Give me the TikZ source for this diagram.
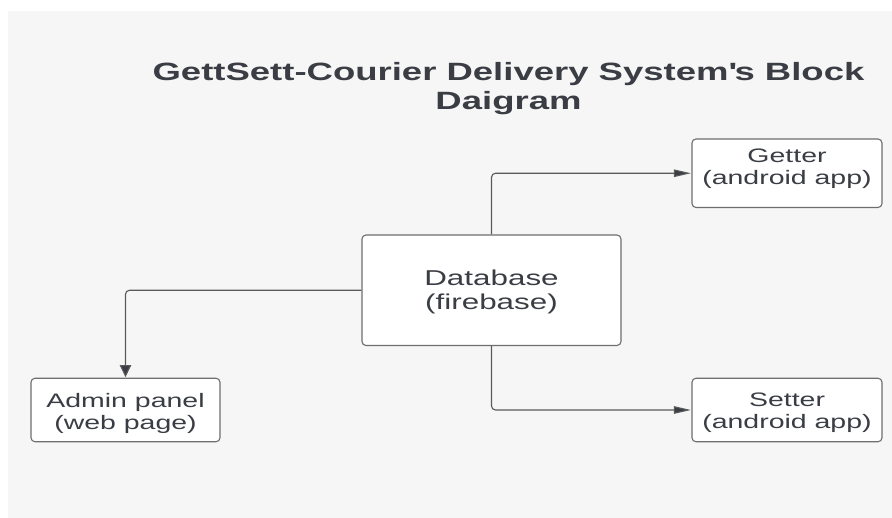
\documentclass[tikz,border=0pt]{standalone}
\usepackage{fontspec}
\setmainfont{Liberation Sans}[FakeStretch=1.46]
\usetikzlibrary{arrows.meta}
\definecolor{bggray}{HTML}{F6F6F6}
\definecolor{txtcol}{HTML}{3A3D44}
\definecolor{boxline}{HTML}{6E6E6E}
\definecolor{linecol}{HTML}{5A5A5A}
\tikzset{
  blockbox/.style={draw=boxline, fill=white, line width=1.1pt, rounded corners=4pt,
    inner sep=0pt, align=center, text=txtcol,
    font=\fontsize{19.5pt}{22pt}\selectfont},
  conn/.style={draw=linecol, line width=1.1pt, rounded corners=4pt, shorten >=0.6pt},
  harrow/.style={conn, -{Triangle[length=17pt,width=7.5pt,fill=txtcol]}},
  varrow/.style={conn, -{Triangle[length=12pt,width=11.5pt,fill=txtcol]}},
  titletext/.style={align=center, text=txtcol, inner sep=0pt,
    font=\bfseries\fontsize{25pt}{28.6pt}\selectfont, text height=48pt, text depth=6pt, anchor=north}
}
\begin{document}
\begin{tikzpicture}[x=1pt,y=-1pt]
\useasboundingbox (0,0) rectangle (892,518);
\fill[white] (0,0) rectangle (892,518);
\fill[bggray] (8,11) rectangle (892,518);

\node[titletext] (title) at (508.5,61.3) {GettSett-Courier Delivery System\textquotesingle s Block\\Daigram};

\node[blockbox, minimum width=190pt, minimum height=68.5pt, text height=36pt, text depth=12.5pt]
  (getter) at (787,173.25) {Getter\\(android app)};
\node[blockbox, minimum width=259pt, minimum height=110.5pt, text height=45pt, text depth=5.5pt,
  font=\fontsize{21.5pt}{24.5pt}\selectfont]
  (db) at (491.5,290.25) {Database\\(firebase)};
\node[blockbox, minimum width=189pt, minimum height=63.5pt, text height=42pt, text depth=3.4pt]
  (admin) at (125.5,410) {Admin panel\\(web page)};
\node[blockbox, minimum width=190pt, minimum height=63.5pt, text height=42pt, text depth=4.6pt]
  (setter) at (787,410) {Setter\\(android app)};

\draw[harrow] (db.north) |- (getter.west);
\draw[harrow] (db.south) |- (setter.west);
\draw[varrow] (db.west) -| (admin.north);
\end{tikzpicture}
\end{document}
